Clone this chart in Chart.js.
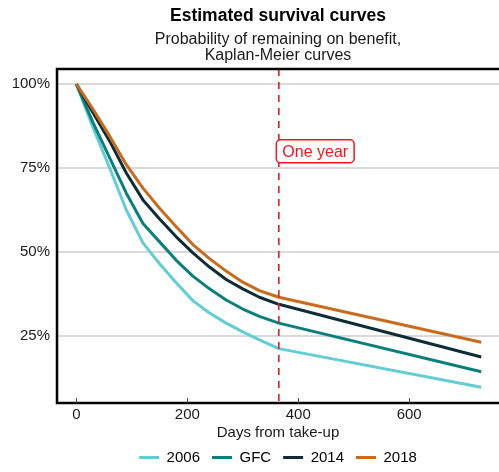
<!DOCTYPE html>
<html>
<head>
<meta charset="utf-8">
<script src="https://cdn.jsdelivr.net/npm/chart.js@4.4.1/dist/chart.umd.min.js"></script>
<style>
  html, body { margin: 0; padding: 0; background: #ffffff; }
  #wrap { width: 499px; height: 472px; }
</style>
</head>
<body>
<div id="wrap"><canvas id="chart" width="499" height="472"></canvas></div>
<script>
// Days since take-up at which the survival estimate is recorded
const days = [0, 30, 60, 90, 120, 150, 180, 210, 240, 270, 300, 330, 365, 730];

// Share still on benefit (Kaplan-Meier estimate) for each cohort
const s2006 = [1.00, 0.870, 0.750, 0.625, 0.527, 0.465, 0.408, 0.355, 0.318, 0.288, 0.262, 0.238, 0.212, 0.097];
const sGFC  = [1.00, 0.885, 0.780, 0.675, 0.585, 0.530, 0.475, 0.428, 0.390, 0.357, 0.330, 0.308, 0.288, 0.143];
const s2014 = [1.00, 0.915, 0.830, 0.735, 0.655, 0.598, 0.545, 0.497, 0.455, 0.418, 0.390, 0.365, 0.344, 0.187];
const s2018 = [1.00, 0.925, 0.845, 0.760, 0.690, 0.630, 0.575, 0.522, 0.480, 0.443, 0.410, 0.385, 0.365, 0.231];

const seriesNames = ['2006', 'GFC', '2014', '2018'];
const seriesValues = [s2006, sGFC, s2014, s2018];
const seriesColours = ['#63cdd6', '#0a807c', '#0e2d37', '#c96a1c'];

// Axis ticks
const xTicks = [0, 200, 400, 600];
const yTicks = [0.25, 0.50, 0.75, 1.00];

// Reference marker
const markerDay = 365;
const markerLevel = 0.80;
const markerText = 'One year';

const FONT = "'Liberation Sans', Arial, Helvetica, sans-serif";
const TEXT = '#1a1a1a';
const RED = '#f5141e';

Chart.defaults.font.family = FONT;
Chart.defaults.color = TEXT;

const datasets = seriesNames.map((name, i) => ({
  label: name,
  data: days.map((d, j) => ({ x: d, y: seriesValues[i][j] })),
  borderColor: seriesColours[i],
  backgroundColor: seriesColours[i],
  borderWidth: 3,
  pointRadius: 0,
  pointHoverRadius: 0,
  tension: 0,
  fill: false,
  borderJoinStyle: 'round',
  order: seriesNames.length - i
}));

// Plot frame, inward x ticks and the dashed one-year marker with its label
const framePlugin = {
  id: 'frameAndMarker',
  afterDatasetsDraw(chart) {
    const { ctx, chartArea: a, scales: { x, y } } = chart;
    ctx.save();

    const mx = x.getPixelForValue(markerDay);
    ctx.strokeStyle = RED;
    ctx.lineWidth = 1.6;
    ctx.setLineDash([7, 6]);
    ctx.beginPath();
    ctx.moveTo(mx, a.top);
    ctx.lineTo(mx, a.bottom);
    ctx.stroke();
    ctx.setLineDash([]);

    ctx.font = '16px ' + FONT;
    const tw = ctx.measureText(markerText).width;
    const bw = tw + 12, bh = 23;
    const bx = mx - 2.5;
    const by = y.getPixelForValue(markerLevel) - bh / 2;
    ctx.beginPath();
    ctx.roundRect(bx, by, bw, bh, 4);
    ctx.fillStyle = '#ffffff';
    ctx.fill();
    ctx.lineWidth = 1.5;
    ctx.strokeStyle = RED;
    ctx.stroke();
    ctx.fillStyle = RED;
    ctx.textAlign = 'center';
    ctx.textBaseline = 'middle';
    ctx.fillText(markerText, bx + bw / 2, by + bh / 2 + 1);

    ctx.strokeStyle = '#000000';
    ctx.lineWidth = 2.5;
    ctx.beginPath();
    ctx.moveTo(a.right, a.top);
    ctx.lineTo(a.left, a.top);
    ctx.lineTo(a.left, a.bottom);
    ctx.lineTo(a.right, a.bottom);
    ctx.stroke();

    ctx.strokeStyle = '#444444';
    ctx.lineWidth = 1;
    x.ticks.forEach(t => {
      const px = Math.round(x.getPixelForValue(t.value)) + 0.5;
      ctx.beginPath();
      ctx.moveTo(px, a.bottom - 5);
      ctx.lineTo(px, a.bottom);
      ctx.stroke();
    });
    ctx.restore();
  }
};

new Chart(document.getElementById('chart'), {
  type: 'line',
  data: { datasets },
  plugins: [framePlugin],
  options: {
    responsive: false,
    animation: false,
    devicePixelRatio: 1,
    layout: { padding: { top: 0, left: 0, right: 0, bottom: -3 } },
    scales: {
      x: {
        type: 'linear',
        min: -35,
        max: 762,
        afterBuildTicks: s => { s.ticks = xTicks.map(v => ({ value: v })); },
        afterFit: s => { s.height = 35; },
        grid: { display: false, drawTicks: false },
        border: { display: false },
        ticks: { font: { size: 15 }, color: TEXT, padding: 3, maxRotation: 0 },
        title: {
          display: true,
          text: 'Days from take-up',
          font: { size: 15 },
          color: TEXT,
          padding: { top: 0, bottom: -3.5 }
        }
      },
      y: {
        type: 'linear',
        min: 0.05,
        max: 1.045,
        afterBuildTicks: s => { s.ticks = yTicks.map(v => ({ value: v })); },
        afterFit: s => { s.width = 57; },
        grid: { color: '#d9d9d9', lineWidth: 2, drawTicks: false },
        border: { display: false },
        ticks: {
          font: { size: 15 },
          color: TEXT,
          padding: 7,
          callback: v => Math.round(v * 100) + '%'
        }
      }
    },
    plugins: {
      title: {
        display: true,
        text: 'Estimated survival curves',
        fullSize: false,
        font: { size: 17.5, weight: 'bold' },
        color: '#000000',
        padding: { top: 5.5, bottom: 5 }
      },
      subtitle: {
        display: true,
        text: ['Probability of remaining on benefit,', 'Kaplan-Meier curves'],
        fullSize: false,
        font: { size: 16, lineHeight: '16px' },
        color: TEXT,
        padding: { top: 0, bottom: 5.5 }
      },
      legend: {
        position: 'bottom',
        fullSize: false,
        align: 'center',
        labels: {
          font: { size: 15 },
          color: TEXT,
          boxWidth: 20,
          boxHeight: 3,
          padding: 12,
          generateLabels: chart => chart.data.datasets.map((ds, i) => ({
            text: ds.label,
            fillStyle: ds.borderColor,
            strokeStyle: ds.borderColor,
            lineWidth: 0,
            hidden: false,
            datasetIndex: i
          }))
        }
      },
      tooltip: { enabled: false }
    }
  }
});
</script>
</body>
</html>
